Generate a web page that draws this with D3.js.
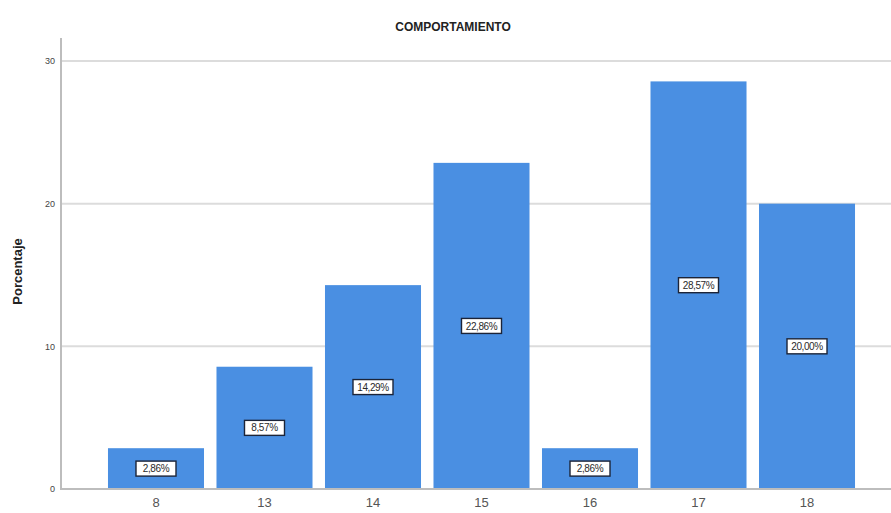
<!DOCTYPE html>
<html>
<head>
<meta charset="utf-8">
<script src="https://cdn.jsdelivr.net/npm/d3@7/dist/d3.min.js"></script>
<style>
  html, body { margin: 0; padding: 0; background: #fff; }
  svg { display: block; font-family: Arial, "Liberation Sans", sans-serif; }
</style>
</head>
<body>
<svg id="chart" width="891" height="513"></svg>
<script>
// Frequency distribution of the COMPORTAMIENTO score
const categories = ["8", "13", "14", "15", "16", "17", "18"];
const percentages = [2.86, 8.57, 14.29, 22.86, 2.86, 28.57, 20.00];
const yTicks = [0, 10, 20, 30];

(function () {
const svg = d3.select("#chart");
const W = 891;
const plotLeft = 61, plotBottom = 489, plotTop = 38;

const x = d3.scaleBand()
  .domain(categories)
  .range([plotLeft, 902])
  .paddingInner(0.115)
  .paddingOuter(0.433);

const y = d3.scaleLinear()
  .domain([0, 30])
  .range([plotBottom, 61]);

// gridlines
svg.append("g")
  .selectAll("line")
  .data(yTicks.filter(d => d > 0))
  .join("line")
  .attr("x1", plotLeft).attr("x2", W)
  .attr("y1", d => y(d)).attr("y2", d => y(d))
  .attr("stroke", "#dcdcdc").attr("stroke-width", 2);

// y axis labels
const yAxis = d3.axisLeft(y).tickValues(yTicks).tickSize(0).tickPadding(6).tickFormat(d3.format("d"));
const gy = svg.append("g").attr("transform", `translate(${plotLeft},0)`).call(yAxis);
gy.select(".domain").remove();
gy.selectAll("text").attr("font-size", 9).attr("fill", "#444");

// bars
svg.append("g")
  .selectAll("rect")
  .data(categories.map((c, i) => ({ c, v: percentages[i] })))
  .join("rect")
  .attr("x", d => x(d.c))
  .attr("width", x.bandwidth())
  .attr("y", d => y(d.v))
  .attr("height", d => y(0) - y(d.v))
  .attr("fill", "#4a8fe2");

// axis lines
svg.append("line")
  .attr("x1", plotLeft).attr("x2", plotLeft)
  .attr("y1", plotTop).attr("y2", plotBottom + 1)
  .attr("stroke", "#bdbdbd").attr("stroke-width", 2);
svg.append("line")
  .attr("x1", plotLeft).attr("x2", W)
  .attr("y1", plotBottom).attr("y2", plotBottom)
  .attr("stroke", "#bdbdbd").attr("stroke-width", 2);

// x axis labels
const xAxis = d3.axisBottom(x).tickSize(0).tickPadding(9);
const gx = svg.append("g").attr("transform", `translate(0,${plotBottom})`).call(xAxis);
gx.select(".domain").remove();
gx.selectAll("text").attr("font-size", 13).attr("fill", "#555");

// value labels in boxes at the middle of each bar
const fmt = v => v.toFixed(2).replace(".", ",") + "%";
const lbl = svg.append("g")
  .selectAll("g")
  .data(categories.map((c, i) => ({ c, v: percentages[i] })))
  .join("g")
  .attr("transform", d => `translate(${x(d.c) + x.bandwidth() / 2},${(y(d.v) + y(0)) / 2})`);
lbl.append("rect")
  .attr("x", -20).attr("y", -7.5).attr("width", 40).attr("height", 15)
  .attr("fill", "#fff").attr("stroke", "#1c2438").attr("stroke-width", 1.4);
lbl.append("text")
  .attr("text-anchor", "middle")
  .attr("dy", "0.36em")
  .attr("font-size", 10)
  .attr("letter-spacing", -0.4)
  .attr("fill", "#2a2a2a")
  .text(d => fmt(d.v));

// title
svg.append("text")
  .attr("x", 453).attr("y", 31)
  .attr("text-anchor", "middle")
  .attr("font-size", 12).attr("font-weight", "bold").attr("fill", "#222")
  .text("COMPORTAMIENTO");

// y axis title
svg.append("text")
  .attr("transform", `translate(22,${(plotTop + plotBottom) / 2 + 8}) rotate(-90)`)
  .attr("text-anchor", "middle")
  .attr("font-size", 13).attr("font-weight", "bold").attr("fill", "#222")
  .text("Porcentaje");
})();
</script>
</body>
</html>
